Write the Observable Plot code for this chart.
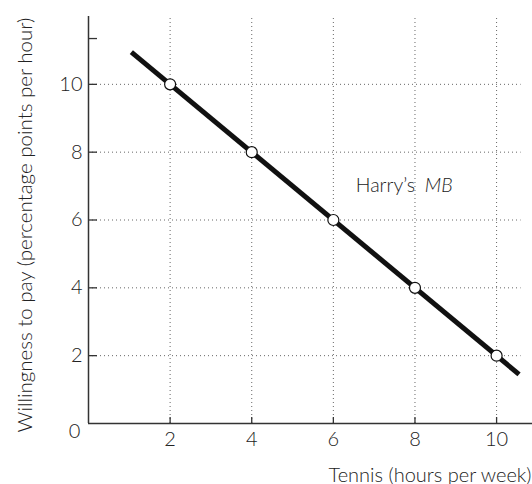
<!DOCTYPE html>
<html>
<head>
<meta charset="utf-8">
<script src="https://cdn.jsdelivr.net/npm/d3@7"></script>
<script src="https://cdn.jsdelivr.net/npm/@observablehq/plot@0.6"></script>
<style>
  html, body { margin: 0; padding: 0; background: #fff; }
  #chart svg { display: block; }
</style>
</head>
<body>
<div id="chart"></div>
<script>
// Data
const tennisHours = [2, 4, 6, 8, 10];
const willingness = [10, 8, 6, 4, 2];
const mbLineX = [1.05, 10.55];
const mbLineY = [10.95, 1.45];
const xTicks = [2, 4, 6, 8, 10];
const yTicks = [2, 4, 6, 8, 10];
const yExtraTicks = [11.35];
const xDomain = [0, 10.88];
const yDomain = [0, 12];
const gridXEnd = 10.6;
const curveLabel = ["Harry’s"];
const curveLabelItalic = ["MB"];
const curveLabelPos = {x: 6.55, y: 7.0};
const xTitle = "Tennis (hours per week)";
const yTitle = "Willingness to pay (percentage points per hour)";

const points = tennisHours.map((x, i) => ({x, y: willingness[i]}));
const line = mbLineX.map((x, i) => ({x, y: mbLineY[i]}));

const font = "Lato, 'Open Sans', sans-serif";
const ink = "#222";

const chart = Plot.plot({
  width: 532,
  height: 484,
  marginLeft: 88,
  marginRight: 0,
  marginTop: 16,
  marginBottom: 61,
  style: {fontFamily: font, fontWeight: 300, color: ink, background: "#fff", overflow: "visible"},
  x: {domain: xDomain, axis: null},
  y: {domain: yDomain, axis: null},
  marks: [
    // dotted grid
    Plot.ruleY(yTicks, {x1: 0, x2: gridXEnd, stroke: "#666", strokeDasharray: "1,3", strokeWidth: 1}),
    Plot.ruleX(xTicks, {y1: 0, y2: yDomain[1], stroke: "#666", strokeDasharray: "1,3", strokeWidth: 1}),
    // axis lines
    Plot.ruleX([0], {y1: 0, y2: yDomain[1], stroke: "#333", strokeWidth: 1.5}),
    Plot.ruleY([0], {stroke: "#333", strokeWidth: 1.5}),
    // inward ticks
    Plot.axisY(yTicks.concat(yExtraTicks), {tickSize: -9, text: null, label: null, stroke: "#333", strokeWidth: 1.3}),
    Plot.axisX(xTicks, {tickSize: -6, text: null, label: null, stroke: "#333", strokeWidth: 1.3}),
    // tick labels
    Plot.axisY(yTicks, {tickSize: 0, tickPadding: 6, label: null, fontSize: 20, tickFormat: d => String(d), fill: ink}),
    Plot.axisX(xTicks, {tickSize: 0, tickPadding: 8, label: null, fontSize: 20, tickFormat: d => String(d), fill: ink}),
    Plot.text([0], {x: 0, y: 0, text: d => String(d), dx: -14, dy: 8, fontSize: 20, fill: ink, textAnchor: "middle"}),
    // axis titles
    Plot.text([xTitle], {frameAnchor: "bottom-right", text: d => d, textAnchor: "end", lineAnchor: "bottom", dy: 58, dx: -1, fontSize: 20, fill: ink}),
    Plot.text([yTitle], {frameAnchor: "left", text: d => d, rotate: -90, textAnchor: "middle", lineAnchor: "middle", dx: -63, dy: 5, fontSize: 20.5, fill: ink}),
    // MB line and points
    Plot.line(line, {x: "x", y: "y", stroke: "#111", strokeWidth: 5, strokeLinecap: "butt"}),
    Plot.dot(points, {x: "x", y: "y", r: 5.5, fill: "#fff", stroke: "#111", strokeWidth: 1.2}),
    // curve label
    Plot.text(curveLabel, {x: curveLabelPos.x, y: curveLabelPos.y, text: d => d, textAnchor: "start", fontSize: 19.5, fill: ink}),
    Plot.text(curveLabelItalic, {x: curveLabelPos.x, y: curveLabelPos.y, text: d => d, textAnchor: "start", dx: 69, fontSize: 19.5, fontStyle: "italic", fill: ink})
  ]
});
document.getElementById("chart").appendChild(chart);
</script>
</body>
</html>
